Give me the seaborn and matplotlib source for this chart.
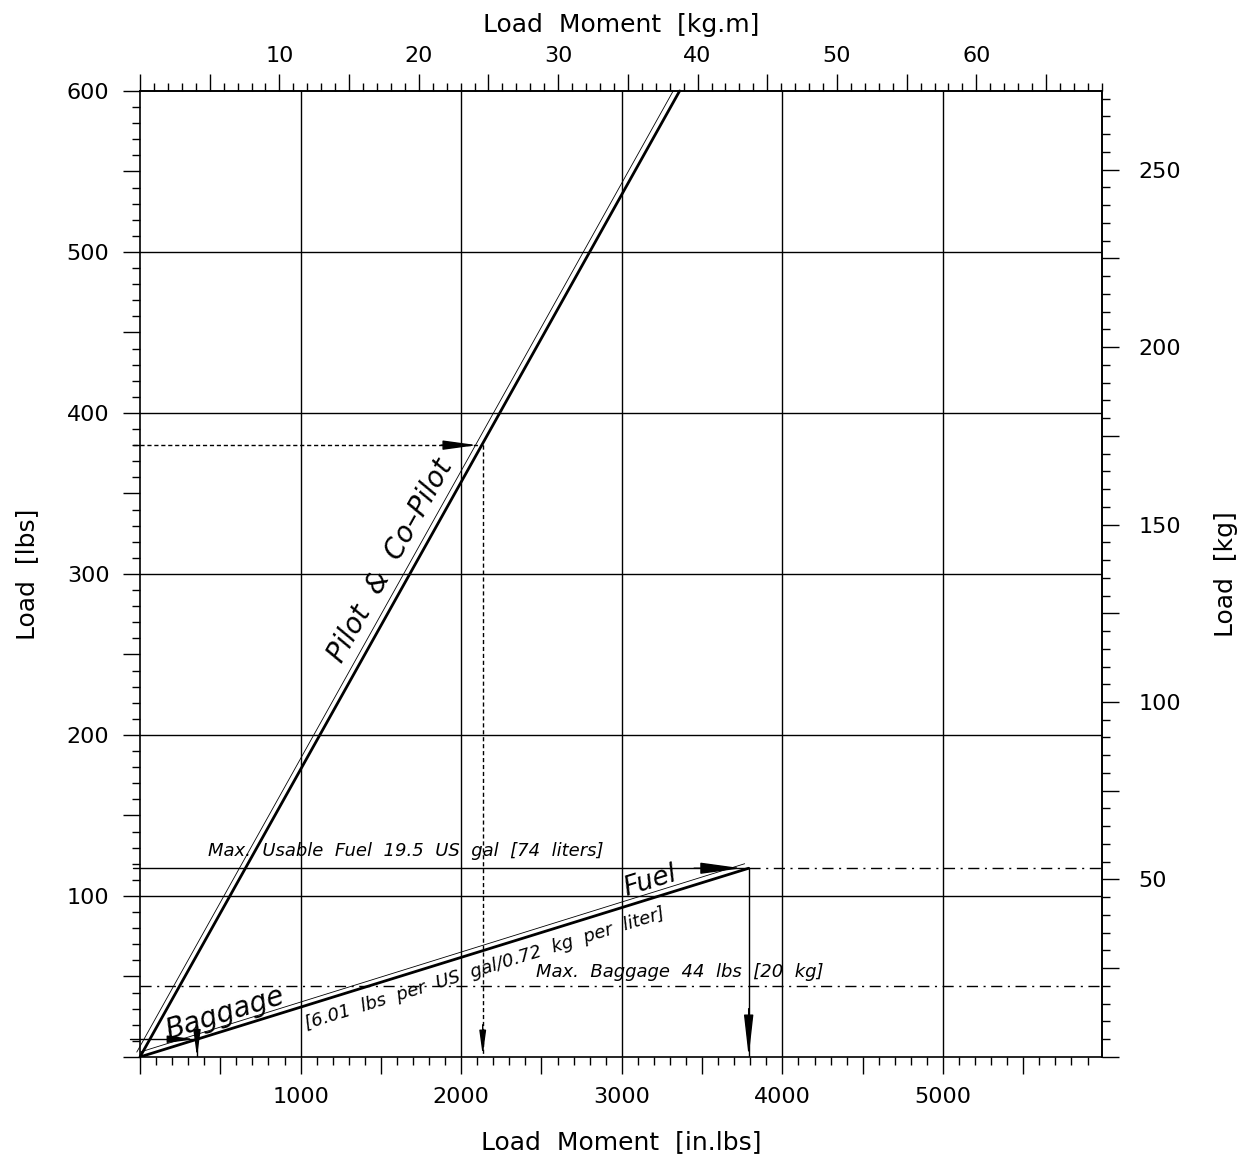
import math
import matplotlib
matplotlib.use("Agg")
import matplotlib.pyplot as plt
import seaborn as sns
from matplotlib.ticker import MultipleLocator, FuncFormatter

sns.set_style("white")
plt.rcParams['font.family'] = ['DejaVu Sans']
plt.rcParams['axes.unicode_minus'] = False
for key in ['text.color', 'axes.labelcolor', 'xtick.color', 'ytick.color', 'axes.edgecolor']:
    plt.rcParams[key] = 'black'

LB_PER_KG = 2.20462
INLB_PER_KGM = 86.796

# loading lines: moment [in.lbs] vs load [lbs]
pilot_moment = [0, 3360]
pilot_load = [0, 600]
pilot_thin_moment = [-20, 3320]
pilot_thin_load = [3, 600]
fuel_moment = [0, 3790]
fuel_load = [0, 117.2]
fuel_thin_moment = [0, 3765]
fuel_thin_load = [3, 120]

max_fuel_lbs = 117.2
max_baggage_lbs = 44

# worked examples (moment, load)
pilot_example = [2134, 380]
baggage_example = [355, 11]

x_max = 5990
y_max = 600

fig = plt.figure(figsize=(12.51, 11.63), dpi=100)
ax = fig.add_axes([0.1119, 0.0912, 0.7690, 0.8306])
ax.set_xlim(0, x_max)
ax.set_ylim(0, y_max)

# grid (only at the labelled values)
for gx in range(1000, 6000, 1000):
    ax.axvline(gx, color='black', lw=1.0, zorder=1)
for gy in range(100, 600, 100):
    ax.axhline(gy, color='black', lw=1.0, zorder=1)

# main lines
sns.lineplot(x=pilot_moment, y=pilot_load, ax=ax, color='black', lw=2.0,
             sort=False, estimator=None, clip_on=False)
sns.lineplot(x=pilot_thin_moment, y=pilot_thin_load, ax=ax, color='black', lw=0.6,
             sort=False, estimator=None, clip_on=False)
sns.lineplot(x=fuel_moment, y=fuel_load, ax=ax, color='black', lw=2.0,
             sort=False, estimator=None)
sns.lineplot(x=fuel_thin_moment, y=fuel_thin_load, ax=ax, color='black', lw=0.6,
             sort=False, estimator=None)

# max usable fuel / max baggage limits
ax.plot([-45, fuel_moment[1]], [max_fuel_lbs, max_fuel_lbs], color='black', lw=1.0, clip_on=False)
ax.plot([fuel_moment[1], x_max], [max_fuel_lbs, max_fuel_lbs], color='black', lw=1.0,
        dashes=(8, 4, 1.5, 4))
ax.plot([0, x_max], [max_baggage_lbs, max_baggage_lbs], color='black', lw=1.0,
        dashes=(8, 4, 1.5, 4))
ax.plot([fuel_moment[1], fuel_moment[1]], [max_fuel_lbs, 0], color='black', lw=1.0)

# pilot example (dashed)
px, py = pilot_example
ax.plot([-45, px], [py, py], color='black', lw=1.0, ls=(0, (3, 2)), clip_on=False)
ax.plot([px, px], [py, 0], color='black', lw=1.0, ls=(0, (3, 2)))

# baggage example
bx, by = baggage_example
ax.plot([-60, bx], [by, by], color='black', lw=1.0, clip_on=False)
ax.plot([bx, bx], [by, 0], color='black', lw=1.0)


def head(tip, tail, scale=16, width=0.22):
    ax.annotate('', xy=tip, xytext=tail,
                arrowprops=dict(arrowstyle=f'-|>,head_length=1.6,head_width={width}',
                                color='black', lw=1.0, shrinkA=0, shrinkB=0,
                                mutation_scale=scale))


head((3746, max_fuel_lbs), (3450, max_fuel_lbs))
head((fuel_moment[1], 0), (fuel_moment[1], 30), width=0.18)
head((px - 35, py), (px - 260, py), scale=13)
head((px, 1), (px, 20), scale=9)
head((bx - 15, by), (bx - 150, by), scale=10)
head((bx, 0), (bx, by), scale=10)


# annotations
def angle(mx, ly):
    return math.degrees(math.atan2(ly[1] - ly[0], mx[1] - mx[0]))


a_p = angle(pilot_moment, pilot_load)
a_f = angle(fuel_moment, fuel_load)
ax.text(1560, 308, 'Pilot  &  Co\u2013Pilot', fontsize=20, fontstyle='italic',
        rotation=a_p, transform_rotates_text=True, rotation_mode='anchor',
        ha='center', va='center')
ax.text(530, 27, 'Baggage', fontsize=20, fontstyle='italic',
        rotation=a_f, transform_rotates_text=True, rotation_mode='anchor',
        ha='center', va='center')
ax.text(3174, 109, 'Fuel', fontsize=19, fontstyle='italic',
        rotation=a_f, transform_rotates_text=True, rotation_mode='anchor',
        ha='center', va='center')
ax.text(2147, 55, '[6.01  lbs  per  US  gal/0.72  kg  per  liter]', fontsize=13,
        fontstyle='italic', rotation=a_f, transform_rotates_text=True,
        rotation_mode='anchor', ha='center', va='center')
ax.text(1655, 128, 'Max.  Usable  Fuel  19.5  US  gal  [74  liters]', fontsize=13,
        fontstyle='italic', ha='center', va='center')
ax.text(3360, 53, 'Max.  Baggage  44  lbs  [20  kg]', fontsize=13,
        fontstyle='italic', ha='center', va='center')

# axes styling
for s in ax.spines.values():
    s.set_color('black')
    s.set_linewidth(1.2)


def only_every(step):
    def fmt(v, pos):
        r = round(v)
        if r > 0 and abs(v - r) < 1e-6 and r % step == 0:
            return f"{r}"
        return ""
    return FuncFormatter(fmt)


ax.xaxis.set_major_locator(MultipleLocator(500))
ax.xaxis.set_minor_locator(MultipleLocator(100))
ax.xaxis.set_major_formatter(only_every(1000))
ax.yaxis.set_major_locator(MultipleLocator(50))
ax.yaxis.set_minor_locator(MultipleLocator(10))
ax.yaxis.set_major_formatter(only_every(100))
ax.tick_params(which='both', direction='out', color='black', width=1.0,
               top=False, right=False, bottom=True, left=True)
ax.tick_params(which='major', length=12, labelsize=16, pad=10)
ax.tick_params(which='minor', length=6)
ax.set_xlabel('Load  Moment  [in.lbs]', fontsize=18, labelpad=16)
ax.set_ylabel('Load  [lbs]', fontsize=18, labelpad=20)

top = ax.secondary_xaxis('top', functions=(lambda x: x / INLB_PER_KGM,
                                           lambda x: x * INLB_PER_KGM))
top.xaxis.set_major_locator(MultipleLocator(5))
top.xaxis.set_minor_locator(MultipleLocator(1))
top.xaxis.set_major_formatter(only_every(10))
top.tick_params(which='both', direction='out', color='black', width=1.0)
top.tick_params(which='major', length=12, labelsize=16, pad=6)
top.tick_params(which='minor', length=6)
top.set_xlabel('Load  Moment  [kg.m]', fontsize=18, labelpad=10)
top.spines['top'].set_linewidth(1.2)

right = ax.secondary_yaxis('right', functions=(lambda y: y / LB_PER_KG,
                                               lambda y: y * LB_PER_KG))
right.yaxis.set_major_locator(MultipleLocator(25))
right.yaxis.set_minor_locator(MultipleLocator(5))
right.yaxis.set_major_formatter(only_every(50))
right.tick_params(which='both', direction='out', color='black', width=1.0)
right.tick_params(which='major', length=12, labelsize=16, pad=14)
right.tick_params(which='minor', length=6)
right.set_ylabel('Load  [kg]', fontsize=18, labelpad=24, rotation=90)
right.spines['right'].set_linewidth(1.2)

fig.savefig('out.png', dpi=100)
plt.close('all')
